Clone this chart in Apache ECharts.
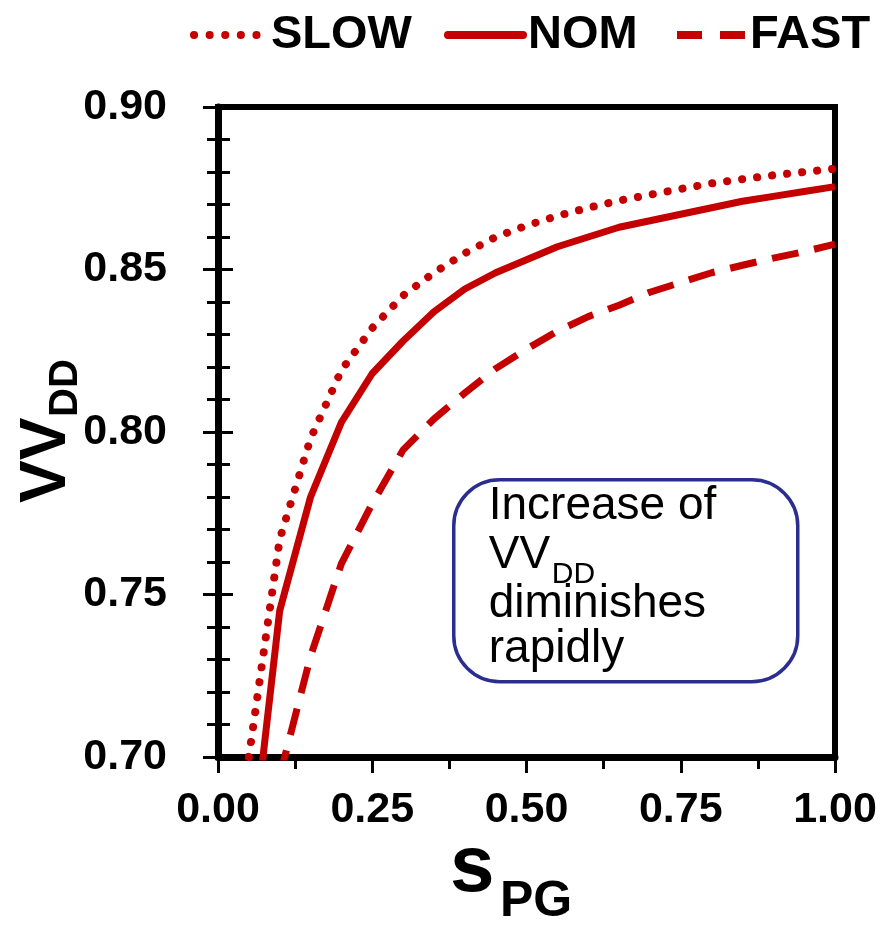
<!DOCTYPE html>
<html>
<head>
<meta charset="utf-8">
<script src="https://cdn.jsdelivr.net/npm/echarts@6/dist/echarts.min.js"></script>
<style>
  html, body { margin: 0; padding: 0; background: #fff; }
  #chart { width: 891px; height: 929px; }
</style>
</head>
<body>
<div id="chart"></div>
<script>
// Pulse-generator strength (s_PG) sample points
const sPG = [0.05, 0.10, 0.15, 0.20, 0.25, 0.30, 0.35, 0.40, 0.45, 0.50,
             0.55, 0.60, 0.65, 0.70, 0.75, 0.80, 0.85, 0.90, 0.95, 1.00];

// VV_DD for each process corner
const slowVdd = [0.700, 0.767, 0.798, 0.819, 0.832, 0.842, 0.849, 0.855, 0.860, 0.8635,
                 0.8665, 0.869, 0.8712, 0.873, 0.8748, 0.8765, 0.8778, 0.879, 0.880, 0.881];
const nomVdd  = [0.662, 0.745, 0.780, 0.803, 0.818, 0.828, 0.837, 0.844, 0.849, 0.853,
                 0.857, 0.860, 0.863, 0.865, 0.867, 0.869, 0.871, 0.8725, 0.874, 0.8755];
const fastVdd = [null, 0.694, 0.731, 0.7595, 0.778, 0.7945, 0.804, 0.812, 0.8195, 0.8255,
                 0.831, 0.8355, 0.839, 0.843, 0.846, 0.849, 0.8513, 0.8535, 0.8555, 0.8578];

const seriesNames = ['SLOW', 'NOM', 'FAST'];

// Axis ranges and tick steps
const xTicks = { min: 0, max: 1, step: 0.25 };
const yTicks = { min: 0.70, max: 0.90, step: 0.05 };

// Axis titles (main symbol + subscript)
const xTitle = ['s', 'PG'];
const yTitle = ['VV', 'DD'];

const noteLines = ['Increase of', 'VV', 'diminishes', 'rapidly'];
const noteSub = 'DD';

const RED = '#C50000';
const FONT = '"Liberation Sans", Arial, Helvetica, sans-serif';

function pairs(ys) {
  return sPG.map((x, i) => [x, ys[i]]);
}

const chart = echarts.init(document.getElementById('chart'), null, { renderer: 'canvas' });

const tickLabelStyle = {
  fontFamily: FONT,
  fontWeight: 'bold',
  fontSize: 43,
  lineHeight: 43,
  color: '#000'
};

const legendText = {
  fontFamily: FONT,
  fontWeight: 'bold',
  fontSize: 47,
  lineHeight: 50,
  color: '#000'
};

const legendCommon = {
  top: 10,
  itemHeight: 14,
  selectedMode: false,
  padding: 0,
  itemStyle: { color: 'rgba(0,0,0,0)', borderWidth: 0, opacity: 0 },
  textStyle: legendText
};

// text drawn with its alphabetic baseline at (x, y); centre offset for Liberation Sans
function baselineText(text, x, y, size, weight, rotate) {
  const off = 0.3465 * size;
  const el = {
    type: 'text',
    style: {
      text: text,
      font: (weight || 'normal') + ' ' + size + 'px ' + FONT,
      fill: '#000',
      align: 'left',
      verticalAlign: 'middle'
    }
  };
  if (rotate) {
    el.x = x - off; el.y = y; el.rotation = Math.PI / 2;
  } else {
    el.x = x; el.y = y - off;
  }
  return el;
}

const option = {
  animation: false,
  backgroundColor: '#fff',
  grid: {
    left: 218, right: 56, top: 107, bottom: 172,
    outerBoundsMode: 'none',
    containLabel: false,
    show: true,
    borderColor: '#000',
    borderWidth: 6,
    backgroundColor: 'transparent'
  },
  legend: [
    Object.assign({}, legendCommon, {
      data: ['SLOW'], left: 190, itemWidth: 72,
      lineStyle: { width: 8, type: [0.1, 15.5], cap: 'round' }
    }),
    Object.assign({}, legendCommon, {
      data: ['NOM'], left: 444, itemWidth: 75,
      lineStyle: { width: 8, cap: 'round' }
    }),
    Object.assign({}, legendCommon, {
      data: ['FAST'], left: 673, itemWidth: 68,
      lineStyle: { width: 8, type: [25, 18], cap: 'butt' }
    })
  ],
  xAxis: [{
    type: 'value',
    min: xTicks.min, max: xTicks.max, interval: xTicks.step,
    axisLine: { show: true, lineStyle: { color: '#000', width: 7 } },
    axisTick: { show: true, inside: false, length: 16, lineStyle: { color: '#000', width: 3 } },
    minorTick: { show: true, splitNumber: 2, length: 12, lineStyle: { color: '#000', width: 3 } },
    splitLine: { show: false },
    axisLabel: {
      margin: 32,
      formatter: v => v.toFixed(2),
      ...tickLabelStyle
    }
  }],
  yAxis: [{
    type: 'value',
    min: yTicks.min, max: yTicks.max, interval: yTicks.step,
    axisLine: { show: true, lineStyle: { color: '#000', width: 7 } },
    axisTick: { show: true, inside: true, length: 15, lineStyle: { color: '#000', width: 3 } },
    minorTick: { show: true, splitNumber: 5, length: 12, lineStyle: { color: '#000', width: 3 } },
    splitLine: { show: false },
    axisLabel: {
      margin: 51,
      formatter: v => v.toFixed(2),
      ...tickLabelStyle
    }
  }, {
    // outward half of the crossing ticks on the left spine
    type: 'value',
    position: 'left',
    min: yTicks.min, max: yTicks.max, interval: yTicks.step,
    axisLine: { show: false },
    axisTick: { show: true, inside: false, length: 15, lineStyle: { color: '#000', width: 3 } },
    minorTick: { show: true, splitNumber: 5, length: 11, lineStyle: { color: '#000', width: 3 } },
    splitLine: { show: false },
    axisLabel: { show: false }
  }],
  series: [
    {
      name: seriesNames[0], type: 'line', data: pairs(slowVdd),
      symbol: 'none', smooth: false, clip: true,
      lineStyle: { color: RED, width: 8, type: [0.1, 15], cap: 'round' },
      itemStyle: { color: RED }
    },
    {
      name: seriesNames[1], type: 'line', data: pairs(nomVdd),
      symbol: 'none', smooth: false, clip: true,
      lineStyle: { color: RED, width: 7, cap: 'butt', join: 'round' },
      itemStyle: { color: RED }
    },
    {
      name: seriesNames[2], type: 'line', data: pairs(fastVdd),
      symbol: 'none', smooth: false, clip: true, connectNulls: false,
      lineStyle: { color: RED, width: 7, type: [27, 16], cap: 'butt' },
      itemStyle: { color: RED }
    }
  ],
  graphic: [
    // y-axis title, rotated to read upward
    baselineText(yTitle[0], 70, 503, 64, 'bold', true),
    baselineText(yTitle[1], 80, 417, 40, 'bold', true),
    // x-axis title
    baselineText(xTitle[0], 450, 897, 80, 'bold', false),
    baselineText(xTitle[1], 500, 920, 50, 'bold', false),
    {
      type: 'group',
      left: 452, top: 478,
      children: [
        {
          type: 'rect',
          shape: { x: 0, y: 0, width: 344, height: 202, r: 46 },
          style: { fill: '#fff', stroke: '#2B2E8F', lineWidth: 3.5 }
        },
        { type: 'text', x: 35, y: 27, style: { text: noteLines[0], font: '46px ' + FONT, fill: '#000', verticalAlign: 'middle' } },
        { type: 'text', x: 35, y: 76, style: { text: noteLines[1], font: '46px ' + FONT, fill: '#000', verticalAlign: 'middle' } },
        { type: 'text', x: 98, y: 95, style: { text: noteSub, font: '30px ' + FONT, fill: '#000', verticalAlign: 'middle' } },
        { type: 'text', x: 35, y: 125, style: { text: noteLines[2], font: '46px ' + FONT, fill: '#000', verticalAlign: 'middle' } },
        { type: 'text', x: 35, y: 170, style: { text: noteLines[3], font: '46px ' + FONT, fill: '#000', verticalAlign: 'middle' } }
      ]
    }
  ]
};

chart.setOption(option);
</script>
</body>
</html>
